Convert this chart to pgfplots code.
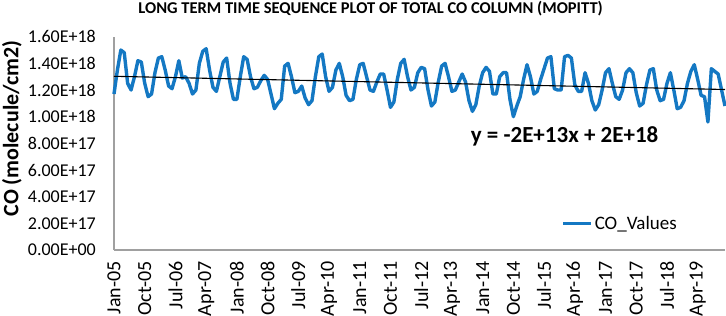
\documentclass[border=0pt]{standalone}
\usepackage{fontspec}
\setmainfont{Carlito}
\usepackage{pgfplots}
\pgfplotsset{compat=1.18}
\usepackage{pgfplotstable}
\definecolor{coblue}{RGB}{20,120,195}
\definecolor{axgray}{RGB}{160,160,160}
\pgfplotstableread{
v
1.17
1.35
1.50
1.48
1.25
1.20
1.30
1.42
1.41
1.25
1.15
1.17
1.33
1.44
1.45
1.35
1.23
1.21
1.30
1.42
1.29
1.30
1.25
1.17
1.20
1.40
1.49
1.51
1.35
1.22
1.19
1.30
1.41
1.44
1.25
1.13
1.13
1.30
1.45
1.43
1.30
1.21
1.22
1.27
1.31
1.28
1.17
1.06
1.10
1.13
1.38
1.40
1.30
1.18
1.19
1.23
1.14
1.09
1.12
1.30
1.45
1.47
1.30
1.19
1.22
1.35
1.40
1.30
1.16
1.12
1.13
1.28
1.39
1.40
1.30
1.20
1.19
1.26
1.32
1.32
1.20
1.07
1.11
1.28
1.40
1.43
1.30
1.20
1.22
1.33
1.37
1.36
1.20
1.08
1.11
1.26
1.38
1.40
1.30
1.19
1.20
1.26
1.32
1.26
1.12
1.04
1.09
1.23
1.33
1.37
1.34
1.17
1.17
1.30
1.33
1.33
1.13
1.00
1.08
1.15
1.28
1.39
1.30
1.17
1.19
1.28
1.36
1.44
1.45
1.21
1.20
1.20
1.45
1.46
1.44
1.24
1.19
1.19
1.33
1.25
1.12
1.05
1.09
1.20
1.33
1.36
1.25
1.15
1.13
1.20
1.33
1.36
1.33
1.18
1.08
1.10
1.24
1.35
1.36
1.20
1.12
1.13
1.25
1.33
1.20
1.06
1.07
1.12
1.25
1.34
1.39
1.28
1.16
1.15
0.96
1.36
1.34
1.32
1.20
1.08
}\codata
\begin{document}
\begin{tikzpicture}
\useasboundingbox (-114pt,-66pt) rectangle (612pt,250pt);
\begin{axis}[
  at={(0pt,0pt)}, anchor=south west,
  scale only axis, width=611pt, height=213.3pt,
  xmin=0, xmax=179, ymin=0, ymax=1.6,
  axis x line=bottom, axis y line=left,
  axis line style={-, draw=axgray, line width=1.2pt},
  major tick length=0pt,
  xtick={0,9,...,171},
  xticklabels={Jan-05,Oct-05,Jul-06,Apr-07,Jan-08,Oct-08,Jul-09,Apr-10,Jan-11,Oct-11,Jul-12,Apr-13,Jan-14,Oct-14,Jul-15,Apr-16,Jan-17,Oct-17,Jul-18,Apr-19},
  ytick={0,0.2,...,1.61},
  yticklabels={0.00E+00,2.00E+17,4.00E+17,6.00E+17,8.00E+17,1.00E+18,1.20E+18,1.40E+18,1.60E+18},
  xticklabel style={yshift=-11pt, rotate=90, anchor=east, inner sep=0pt, font=\fontsize{20}{23}\selectfont},
  yticklabel style={anchor=east, inner sep=0pt, xshift=-18pt, font=\fontsize{18}{21}\selectfont},
  ylabel={CO (molecule/cm2)},
  ylabel style={at={(axis description cs:-0.167,0.57)}, anchor=center, font=\bfseries\fontsize{22}{25}\selectfont},
  legend style={at={(axis cs:131,0.2)}, anchor=west, draw=none, fill=none, inner sep=0pt,
    font=\fontsize{19}{22}\selectfont, legend cell align=left},
  legend image code/.code={\draw[#1] (0pt,0pt) -- (28pt,0pt);},
  clip=false,
]
\addplot[coblue, line width=3.4pt, line join=round] table[x expr=\coordindex, y=v] {\codata};
\addlegendentry{CO\_Values}
\addplot[black, line width=1.1pt, forget plot] coordinates {(0,1.303) (179,1.204)};
\node[anchor=center, font=\bfseries\fontsize{23}{26}\selectfont] at (axis cs:132,0.85) {y = -2E+13x + 2E+18};
\node[anchor=base, inner sep=0pt, yshift=23pt, font=\bfseries\fontsize{16.5}{19}\selectfont] at (axis description cs:0.42,1) {LONG TERM TIME SEQUENCE PLOT OF TOTAL CO COLUMN (MOPITT)};
\end{axis}
\end{tikzpicture}
\end{document}
